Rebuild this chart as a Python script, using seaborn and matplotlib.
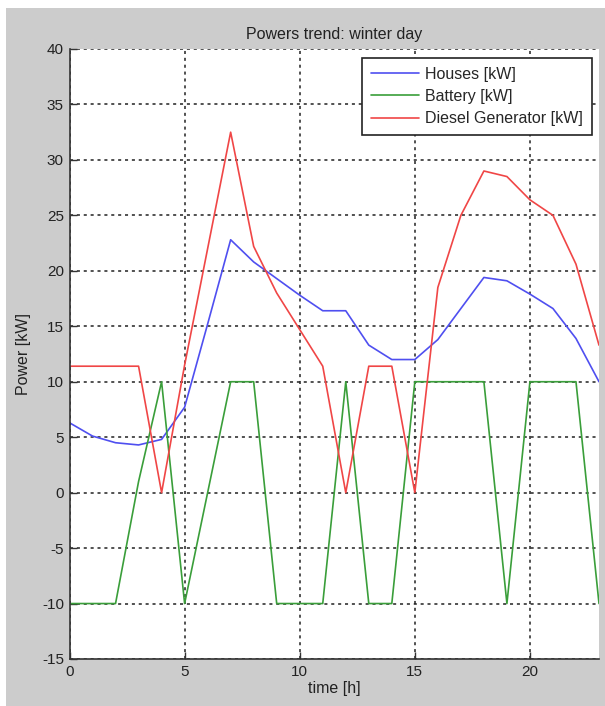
import numpy as np
import pandas as pd
import matplotlib
matplotlib.use("Agg")
import matplotlib.pyplot as plt
import seaborn as sns
from matplotlib.patches import Rectangle

# === Data (hourly) ===
hours = list(range(24))
houses = [6.3, 5.1, 4.5, 4.3, 4.8, 7.7, 15.2, 22.8, 20.8, 19.3, 17.8, 16.4,
          16.4, 13.3, 12.0, 12.0, 13.8, 16.6, 19.4, 19.1, 17.9, 16.6, 13.9, 10.0]
battery = [-10, -10, -10, 1, 10, -10, 0, 10, 10, -10, -10, -10,
           10, -10, -10, 10, 10, 10, 10, -10, 10, 10, 10, -10]
diesel = [11.4, 11.4, 11.4, 11.4, 0.0, 11.5, 22.0, 32.5, 22.2, 18.0, 14.7, 11.4,
          0.0, 11.4, 11.4, 0.0, 18.5, 25.0, 29.0, 28.5, 26.4, 25.0, 20.6, 13.3]

series_names = ["Houses [kW]", "Battery [kW]", "Diesel Generator [kW]"]
series_colors = ["#4f4ff0", "#3a9e3a", "#f04646"]

df = pd.DataFrame({"time": hours, series_names[0]: houses,
                   series_names[1]: battery, series_names[2]: diesel})

# === Style ===
sns.set_style("white")
plt.rcParams["font.family"] = ["Liberation Sans", "DejaVu Sans"]
plt.rcParams["axes.unicode_minus"] = False

fig = plt.figure(figsize=(6.05, 7.06), dpi=100, facecolor="white")
# gray figure panel (MATLAB style) with a thin white margin
fig.patches.append(Rectangle((6 / 605, 0), 1 - 6 / 605, 1 - 8 / 706,
                             transform=fig.transFigure, facecolor="#cccccc",
                             edgecolor="none", zorder=-10))

ax = fig.add_axes([69.5 / 605, 47 / 706, 529.5 / 605, 610 / 706])
ax.set_facecolor("white")

for name, col in zip(series_names, series_colors):
    sns.lineplot(data=df, x="time", y=name, color=col, linewidth=1.2,
                 label=name, ax=ax)

ax.set_xlim(0, 23)
ax.set_ylim(-15, 40)
ax.set_xticks([0, 5, 10, 15, 20])
ax.set_yticks(np.arange(-15, 41, 5))

ax.grid(True, color="#222222", linestyle=(0, (2, 2.5)), linewidth=1.1)
ax.set_axisbelow(True)

for s in ["top", "right"]:
    ax.spines[s].set_visible(False)
for s in ["left", "bottom"]:
    ax.spines[s].set_color("#333333")
    ax.spines[s].set_linewidth(1.2)

ax.tick_params(direction="in", length=5, width=1, colors="#333333",
               labelsize=11, pad=4, left=True, bottom=True)
for lab in ax.get_xticklabels() + ax.get_yticklabels():
    lab.set_color("#222222")

ax.set_title("Powers trend: winter day", fontsize=11.5, color="#222222", pad=7)
ax.set_xlabel("time [h]", fontsize=11.5, color="#222222", labelpad=2)
ax.set_ylabel("Power [kW]", fontsize=11.5, color="#222222", labelpad=8)

leg = ax.legend(loc="upper right", bbox_to_anchor=(0.987, 0.986),
                borderaxespad=0, fontsize=11.5,
                frameon=True, fancybox=False, framealpha=1, edgecolor="#222222",
                handlelength=3.0, handletextpad=0.37, borderpad=0.58,
                labelspacing=0.45)
leg.get_frame().set_linewidth(1.2)

fig.savefig("out.png", dpi=100, facecolor=fig.get_facecolor())
